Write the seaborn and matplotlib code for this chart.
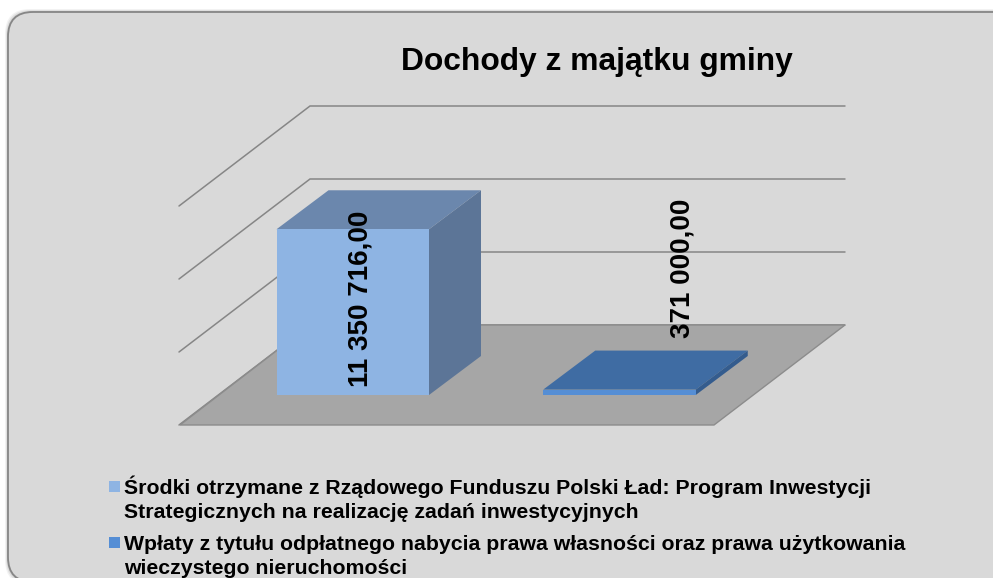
import matplotlib
matplotlib.use("Agg")
import matplotlib.pyplot as plt
import seaborn as sns
from matplotlib.patches import FancyBboxPatch, Polygon, Rectangle

# Data
categories = ["Środki otrzymane", "Wpłaty"]
values = [11350716.00, 371000.00]
value_labels = ["11 350 716,00", "371 000,00"]
grid_values = [0, 5000000, 10000000, 15000000]
legend_labels = [
    "Środki otrzymane z Rządowego Funduszu Polski Ład: Program Inwestycji\nStrategicznych na realizację zadań inwestycyjnych",
    "Wpłaty z tytułu odpłatnego nabycia prawa własności oraz prawa użytkowania\nwieczystego nieruchomości",
]
title = "Dochody z majątku gminy"

# Colours of each bar: front, top, side
front_colors = ["#8EB4E3", "#558ED5"]
top_colors = ["#6B87AD", "#3F6CA3"]
side_colors = ["#5C7597", "#345C8E"]

# Scales, the axes fills the whole figure
W, H = 993, 578
PX_PER_CAT = 266.75
PX_PER_VAL = 14.6 / 1e6
X0_PX, Y0_PX = 352.75, 395

def px(x, y):
    return (x - X0_PX) / PX_PER_CAT, (Y0_PX - y) / PX_PER_VAL

sns.set_theme(style="white")
plt.rcParams["font.family"] = ["Liberation Sans", "DejaVu Sans"]

fig = plt.figure(figsize=(W / 100, H / 100), dpi=100, facecolor="white")
ax = fig.add_axes([0, 0, 1, 1])

sns.barplot(x=categories, y=values, hue=categories, palette=front_colors, saturation=1,
            width=152.5 / PX_PER_CAT, dodge=False, legend=False, linewidth=0, zorder=4, ax=ax)

ax.set_xlim(px(0, 0)[0], px(W, 0)[0])
ax.set_ylim(px(0, H)[1], px(0, 0)[1])
ax.axis("off")

# Panel with soft shadow
for grow, alpha in [(3, 0.05), (2, 0.07), (1, 0.10)]:
    ax.add_patch(FancyBboxPatch((8 - grow, H - 582 - grow), 1010 + 2 * grow, 570 + 2 * grow,
                                boxstyle="round,pad=0,rounding_size=25", transform=None,
                                fc="black", ec="none", alpha=alpha, zorder=0))
ax.add_patch(FancyBboxPatch((8, H - 582), 1010, 570, boxstyle="round,pad=0,rounding_size=25",
                            transform=None, fc="#D9D9D9", ec="#868686", lw=1.3, zorder=0.5))

# Walls: gridlines run along the back and down the side
for v in grid_values:
    y_back = 325 - v * PX_PER_VAL
    xs, ys = zip(px(179, y_back + 100), px(310, y_back), px(845, y_back))
    ax.plot(xs, ys, color="#868686", lw=1.1, zorder=1, solid_joinstyle="miter")

# Floor
floor = [px(180, 425), px(714, 425), px(845, 325), px(310, 325)]
ax.add_patch(Polygon(floor, closed=True, fc="#A6A6A6", ec="#8C8C8C", lw=1, zorder=2))

# Depth of the bars is drawn from the seaborn rectangles
dx = 52 / PX_PER_CAT
dy = 39 / PX_PER_VAL
for i, container in enumerate(ax.containers):
    bar = container[0]
    x0, w, h = bar.get_x(), bar.get_width(), bar.get_height()
    x1 = x0 + w
    ax.add_patch(Polygon([(x0, h), (x1, h), (x1 + dx, h + dy), (x0 + dx, h + dy)],
                         closed=True, fc=top_colors[i], ec="none", zorder=3))
    ax.add_patch(Polygon([(x1, 0), (x1 + dx, dy), (x1 + dx, h + dy), (x1, h)],
                         closed=True, fc=side_colors[i], ec="none", zorder=3))

# Value labels
for label, (lx, ly) in zip(value_labels, [(360, 387), (683, 338)]):
    ax.text(*px(lx, ly), label, rotation=90, ha="center", va="bottom", fontsize=20,
            fontweight="bold", color="black", zorder=6)

ax.text(*px(596.5, 62), title, ha="center", va="center", fontsize=22.9,
        fontweight="bold", color="black", zorder=6)

# Legend
for label, color, y_box, y_text in zip(legend_labels, front_colors, [481, 537], [476, 535]):
    ax.add_patch(Rectangle((109, H - y_box - 11), 11, 11, transform=None, fc=color, ec="none", zorder=6))
    ax.text(*px(124, y_text), label, ha="left", va="top", fontsize=15.35, fontweight="bold",
            color="black", linespacing=1.32, zorder=6)

fig.savefig("out.png", dpi=100)
